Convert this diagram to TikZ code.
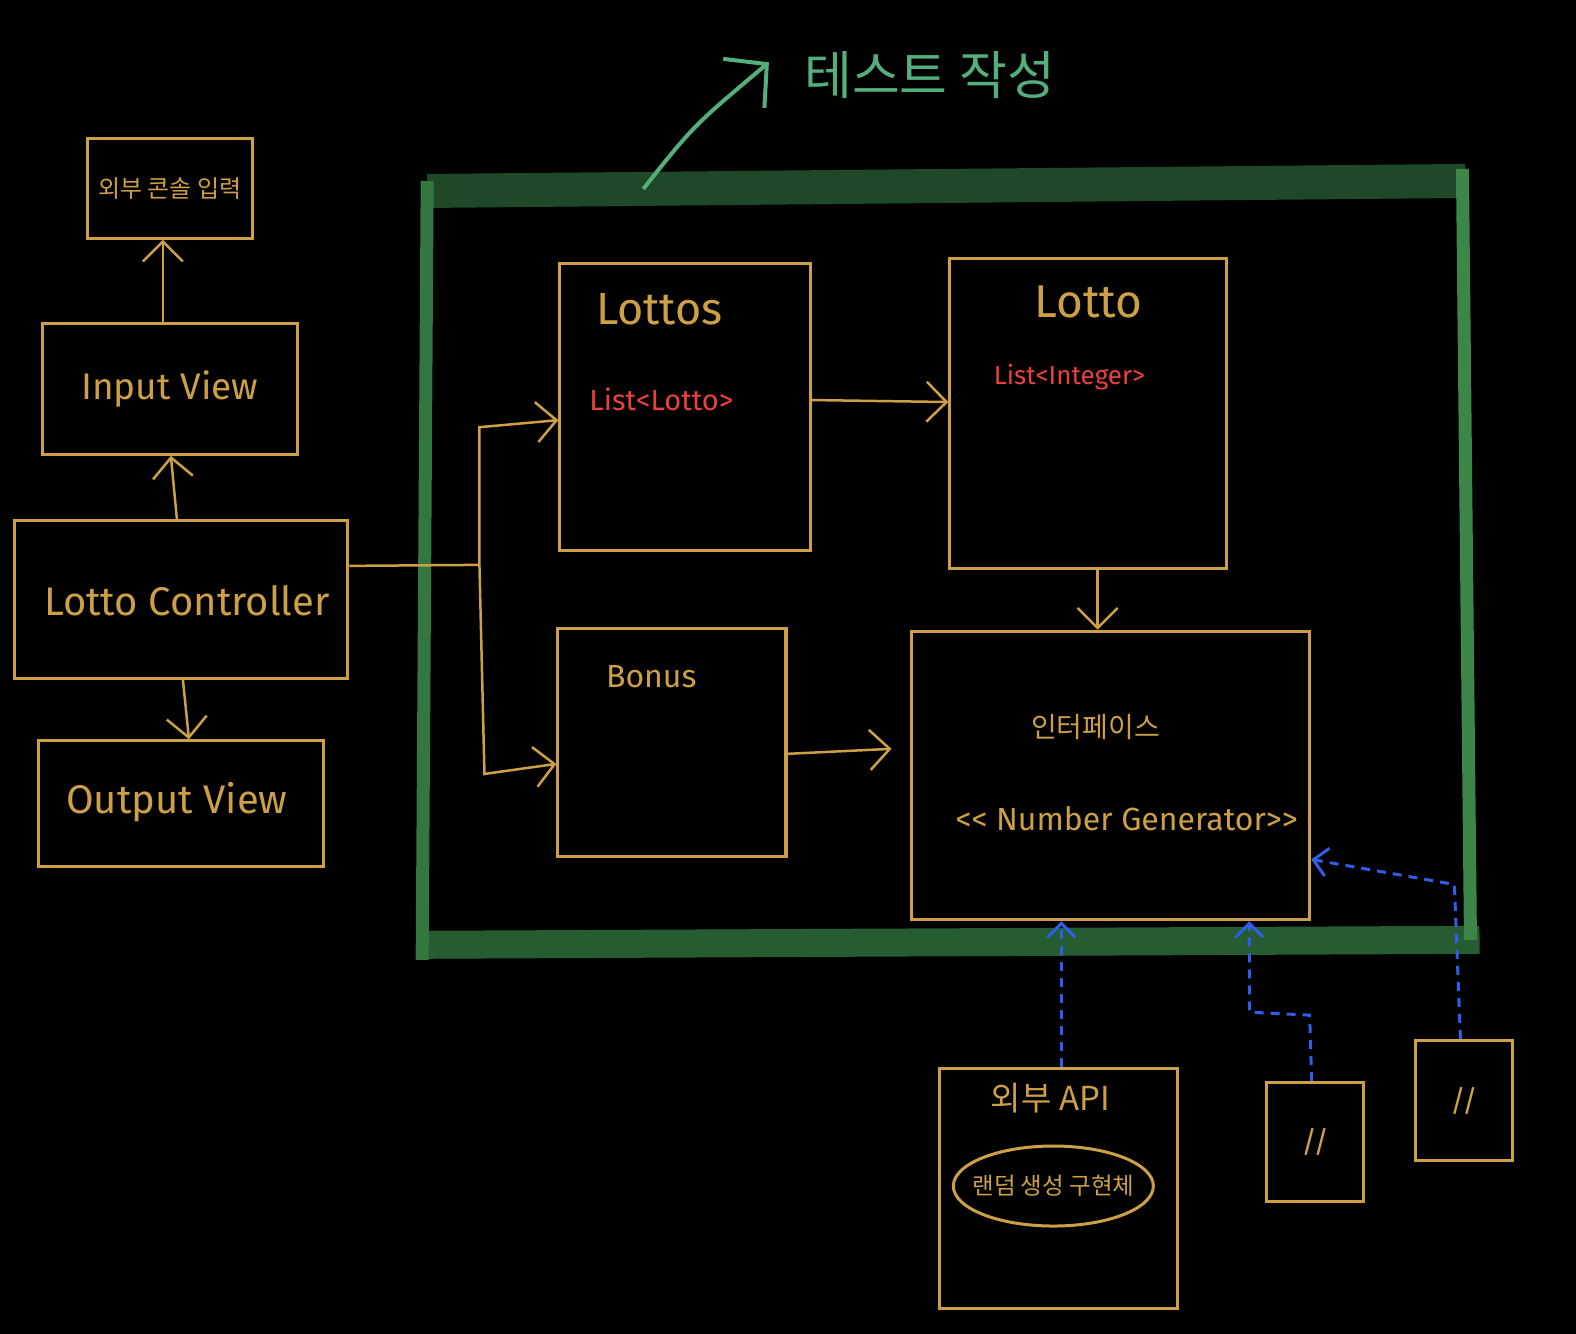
\documentclass[tikz,border=0pt]{standalone}
\usepackage{fontspec}
\setmainfont{Fira Sans}
\newfontfamily\kr{Noto Sans CJK KR}
\usetikzlibrary{arrows.meta,fit,shapes.geometric}
\definecolor{gold}{RGB}{205,160,70}
\definecolor{frametop}{RGB}{30,72,40}
\definecolor{frameside}{RGB}{52,118,64}
\definecolor{frameright}{RGB}{60,135,72}
\definecolor{framebot}{RGB}{38,92,50}
\definecolor{titleg}{RGB}{85,175,125}
\definecolor{redt}{RGB}{235,65,60}
\definecolor{bluea}{RGB}{45,95,235}
\tikzset{
  x=1.005pt, y=-1.005pt,
  box/.style={draw=gold, line width=3pt, inner sep=0pt},
  garr/.style={draw=gold, line width=2.5pt, -{Straight Barb[length=20pt,width=40pt,line width=2.5pt]}},
  gline/.style={draw=gold, line width=2.5pt},
  barr/.style={draw=bluea, line width=3pt, dash pattern=on 9pt off 7pt, -{Straight Barb[length=14pt,width=28pt,line width=3pt]}},
  lbl/.style={text=gold, inner sep=0pt},
  redlbl/.style={text=redt, inner sep=0pt},
}
\begin{document}
\begin{tikzpicture}
\fill[black] (0,0) rectangle (1568,1327);
\useasboundingbox (0,0) rectangle (1568,1327);

% test area frame
\draw[frametop, line width=34pt] (425,190) -- (1458,180);
\draw[framebot, line width=28pt] (418,940) -- (1472,935);
\draw[frameside, line width=13pt] (425,180) -- (420,955);
\draw[frameright, line width=13pt] (1455,168) -- (1463,935);
\node[inner sep=0pt, fit={(420,175) (1465,945)}] (testarea) {};

% title
\node[text=titleg, inner sep=0pt, font=\kr\fontsize{52}{60}\selectfont] (title) at (925,75) {테스트 작성};
\coordinate (tstart) at (640,188);
\coordinate (ttip) at (765,62);
\draw[titleg, line width=4pt, -{Straight Barb[length=30pt,width=64pt,line width=4pt]}] (tstart) .. controls (690,125) .. (ttip);

% left column
\node[box, fit={(87,138) (251,237)}] (console) {};
\node[lbl, font=\kr\fontsize{24}{28}\selectfont] at (console.center) {외부 콘솔 입력};
\node[box, fit={(42,322) (296,452)}] (inview) {};
\node[lbl, font=\fontsize{37}{42}\selectfont] at (inview.center) {Input View};
\node[box, fit={(14,518) (346,675)}] (ctrl) {};
\node[lbl, font=\fontsize{40}{46}\selectfont] at (186,598) {Lotto Controller};
\node[box, fit={(38,737) (322,862)}] (outview) {};
\node[lbl, font=\fontsize{40}{46}\selectfont] at (176,798) {Output View};

\draw[garr] (162,0 |- inview.north) -- (162,0 |- console.south);
\draw[garr] (176,0 |- ctrl.north) -- (170,0 |- inview.south);
\draw[garr] (182,0 |- ctrl.south) -- (188,0 |- outview.north);

% domain boxes
\node[box, fit={(557,262) (806,548)}] (lottos) {};
\node[lbl, font=\fontsize{45}{50}\selectfont] at (656,308) {Lottos};
\node[redlbl, font=\fontsize{29}{34}\selectfont] at (658,397) {List<Lotto>};

\node[box, fit={(945,257) (1220,566)}] (lotto) {};
\node[lbl, font=\fontsize{46}{52}\selectfont] at (1083,300) {Lotto};
\node[redlbl, font=\fontsize{26}{30}\selectfont] at (1064,375) {List<Integer>};

\node[box, fit={(555,625) (782,852)}] (bonus) {};
\node[lbl, font=\fontsize{32}{38}\selectfont] at (648,673) {Bonus};

\node[box, fit={(907,628) (1303,915)}] (iface) {};
\node[lbl, font=\kr\fontsize{28}{32}\selectfont] at (1090,723) {인터페이스};
\node[lbl, font=\fontsize{32}{38}\selectfont] at (1121,815) {{<}{<} Number Generator{>}{>}};

% controller branching
\coordinate (br) at (477,562);
\draw[gline] (ctrl.east |- 0,563) -- (br);
\draw[garr] (br) -- (477,425) -- (lottos.west |- 0,418);
\draw[garr] (br) -- (482,770) -- (bonus.west |- 0,760);
\draw[garr] (lottos.east |- 0,398) -- (lotto.west |- 0,400);
\draw[garr] (1092,0 |- lotto.south) -- (1092,0 |- iface.north);
\draw[garr] (bonus.east |- 0,750) -- (887,745);

% external implementations
\node[box, fit={(935,1063) (1172,1302)}] (api) {};
\node[lbl, font=\kr\fontsize{33}{38}\selectfont] at (1045,1093) {외부 API};
\node[draw=gold, line width=3pt, ellipse, minimum width=200pt, minimum height=80pt, inner sep=0pt] (rand) at (1048,1180) {};
\node[lbl, font=\kr\fontsize{23.5}{28}\selectfont] at (rand.center) {랜덤 생성 구현체};

\node[box, fit={(1260,1077) (1357,1195)}] (impl1) {};
\node[lbl, font=\fontsize{30}{34}\selectfont] at (impl1.center) {//};
\node[box, fit={(1408,1035) (1505,1155)}] (impl2) {};
\node[lbl, font=\fontsize{30}{34}\selectfont] at (impl2.center) {//};

\draw[barr] (1056,0 |- api.north) -- (1056,0 |- iface.south);
\draw[barr] (1305,0 |- impl1.north) -- (1303,1010) -- (1243,1007) -- (1243,0 |- iface.south);
\draw[barr] (1453,0 |- impl2.north) -- (1447,880) -- (iface.east |- 0,855);
\end{tikzpicture}
\end{document}
